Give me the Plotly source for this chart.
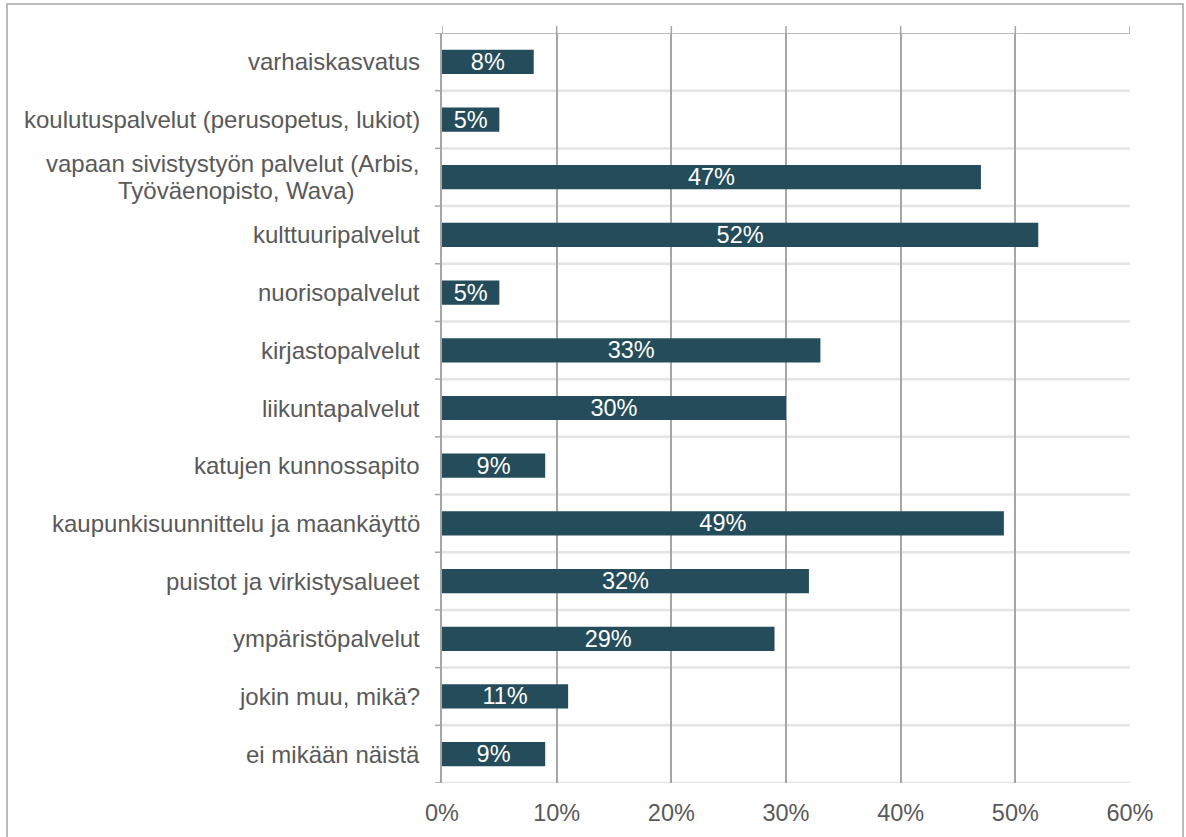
import plotly.graph_objects as go

categories = [
    "varhaiskasvatus",
    "koulutuspalvelut (perusopetus, lukiot)",
    "vapaan sivistystyön palvelut (Arbis, Työväenopisto, Wava)",
    "kulttuuripalvelut",
    "nuorisopalvelut",
    "kirjastopalvelut",
    "liikuntapalvelut",
    "katujen kunnossapito",
    "kaupunkisuunnittelu ja maankäyttö",
    "puistot ja virkistysalueet",
    "ympäristöpalvelut",
    "jokin muu, mikä?",
    "ei mikään näistä",
]
# display lines for each category label (long one is wrapped in two lines)
label_lines = [
    ["varhaiskasvatus"],
    ["koulutuspalvelut (perusopetus, lukiot)"],
    ["vapaan sivistystyön palvelut (Arbis,", "Työväenopisto, Wava)"],
    ["kulttuuripalvelut"],
    ["nuorisopalvelut"],
    ["kirjastopalvelut"],
    ["liikuntapalvelut"],
    ["katujen kunnossapito"],
    ["kaupunkisuunnittelu ja maankäyttö"],
    ["puistot ja virkistysalueet"],
    ["ympäristöpalvelut"],
    ["jokin muu, mikä?"],
    ["ei mikään näistä"],
]
values = [8, 5, 47, 52, 5, 33, 30, 9, 49, 32, 29, 11, 9]
x_ticks = [0, 10, 20, 30, 40, 50, 60]
x_tick_labels = ["0%", "10%", "20%", "30%", "40%", "50%", "60%"]

BAR = "#244c5a"
TXT = "#595959"
GRID = "#a6a6a6"
LIGHT = "#e4e4e4"
FONT = "Liberation Sans, Arial"

W, H = 1186, 837
L, R, T, B = 442, 56, 33, 54
pw, ph = W - L - R, H - T - B

fig = go.Figure(go.Bar(
    y=categories, x=values, orientation="h",
    marker=dict(color=BAR, line=dict(width=0)),
    text=[f"{v}%" for v in values],
    textposition="inside", insidetextanchor="middle",
    textfont=dict(color="white", size=23.5, family=FONT),
    constraintext="none",
    cliponaxis=False,
    width=0.42,
))

shapes = []
n = len(categories)
for i in range(n + 1):
    yb = i - 0.5
    if i == 0:
        col, w = GRID, 1.5
    else:
        col, w = LIGHT, 2.5
    shapes.append(dict(type="line", xref="x", yref="y", x0=0, x1=60, y0=yb, y1=yb,
                       line=dict(color=col, width=w), layer="below"))
    shapes.append(dict(type="line", xref="paper", yref="y", x0=-7 / pw, x1=0, y0=yb, y1=yb,
                       line=dict(color=GRID, width=1.5)))
for xv in x_ticks:
    shapes.append(dict(type="line", xref="x", yref="paper", x0=xv, x1=xv, y0=1, y1=1 + 7 / ph,
                       line=dict(color=GRID, width=1.5)))
shapes.append(dict(type="rect", xref="paper", yref="paper",
                   x0=(7 - L) / pw, x1=(1183 - L) / pw,
                   y0=(H - B - 850) / ph, y1=(H - B - 4) / ph,
                   line=dict(color="#a6a6a6", width=1.5), fillcolor="rgba(0,0,0,0)", layer="below"))

annotations = []
LBL = 24
for cat, lines in zip(categories, label_lines):
    k = len(lines)
    lh = 27
    for j, ln in enumerate(lines):
        if k > 1 and j > 0:
            # continuation lines are centred under the first line
            xs, xa = -206, "center"
        else:
            xs, xa = -20, "right"
        annotations.append(dict(
            x=0, xref="paper", xshift=xs, xanchor=xa,
            y=cat, yref="y", yshift=((k - 1) / 2 - j) * lh, yanchor="middle",
            text=ln, showarrow=False,
            font=dict(size=LBL, color=TXT, family=FONT),
        ))

fig.update_layout(
    width=W, height=H,
    margin=dict(l=L, r=R, t=T, b=B),
    paper_bgcolor="white", plot_bgcolor="white",
    showlegend=False,
    font=dict(family=FONT, color=TXT, size=23.5),
    shapes=shapes,
    annotations=annotations,
    xaxis=dict(
        range=[0, 60], tickvals=x_ticks, ticktext=x_tick_labels,
        showgrid=True, gridcolor=GRID, gridwidth=1.5,
        zeroline=False, showline=False, ticks="",
        tickfont=dict(size=23.5, color=TXT, family=FONT),
        ticklabelstandoff=13,
    ),
    yaxis=dict(
        type="category", autorange=False, range=[n - 0.5, -0.5],
        showgrid=False, zeroline=False,
        showline=True, linecolor=GRID, linewidth=1.5,
        ticks="", showticklabels=False,
    ),
)

fig.write_html("out.html", config={"displayModeBar": False},
               post_script="document.body.style.margin='0';")
